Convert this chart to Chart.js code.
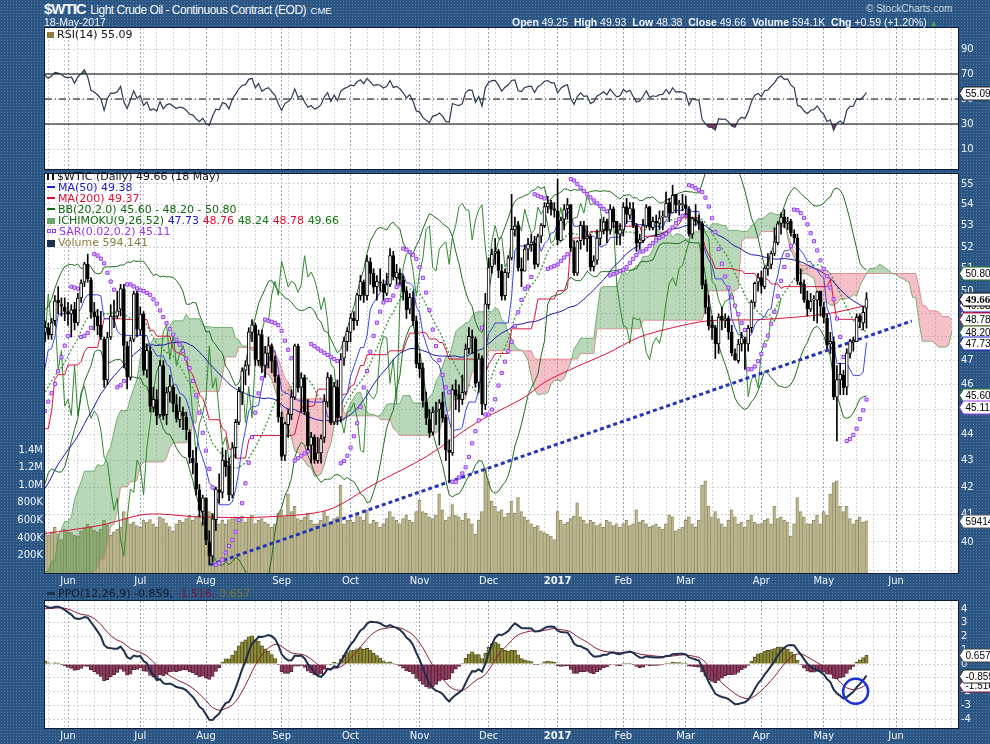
<!doctype html>
<html lang="en">
<head>
<meta charset="utf-8">
<title>$WTIC Light Crude Oil - Continuous Contract</title>
<style>
  * { margin: 0; padding: 0; }
  body { width: 990px; height: 744px; overflow: hidden; background: #2b5684; }
  #page {
    position: relative; width: 990px; height: 744px;
    background-color: #2b5684;
    background-image: radial-gradient(rgba(160,190,225,0.35) 0.7px, transparent 0.9px);
    background-size: 3px 3px;
    font-family: "Liberation Sans", Arial, sans-serif;
  }
  canvas { position: absolute; left: 0; z-index: 1; }
  .t { position: absolute; white-space: nowrap; color: #f2f5f9; z-index: 3; }
  .lg { position: absolute; white-space: nowrap; font: 11px "DejaVu Sans", sans-serif; line-height: 11px; z-index: 5; }
  .lg div { height: 11px; }
  .ic { display: inline-block; width: 8px; height: 2px; vertical-align: middle; margin: 0 3px 2px 0; }
  .sq { display: inline-block; width: 2px; height: 2px; border: 1px solid #9b3cf0; margin: 0 1px 2px 0; vertical-align: middle; }
</style>
</head>
<body>
<div id="page">
  <div class="t" style="left:44px;top:0px;line-height:18px"><span style="font-weight:bold;font-size:15px;letter-spacing:-1px">$WTIC</span> <span style="font-size:12px;letter-spacing:-0.5px">Light Crude Oil - Continuous Contract (EOD)</span> <span style="font-size:9.5px">CME</span></div>
  <div class="t" style="left:44px;top:16px;font-size:10.5px">18-May-2017</div>
  <div class="t" style="left:866px;top:3px;font-size:10px;color:#c9d3de">&copy; StockCharts.com</div>
  <div class="t" style="left:512px;top:16px;font-size:10.5px"><b>Open</b> 49.25 &nbsp;<b>High</b> 49.93 &nbsp;<b>Low</b> 48.38 &nbsp;<b>Close</b> 49.66 &nbsp;<b>Volume</b> 594.1K &nbsp;<b>Chg</b> +0.59 (+1.20%) <span style="color:#4caf50;font-size:8px">&#9650;</span></div>

  <canvas id="rsi" width="990" height="143" style="top:27px"></canvas>
  <canvas id="main" width="990" height="418" style="top:169px"></canvas>
  <canvas id="ppo" width="990" height="158" style="top:586px"></canvas>

  <div class="lg" style="left:47px;top:29px;color:#111"><span class="ic" style="width:7px;height:6px;background:#8a7d3a;margin-bottom:0"></span>RSI(14) 55.09</div>

  <div class="lg" style="left:47px;top:171px">
    <div style="color:#111"><span class="ic" style="width:3px;height:6px;border-left:2px solid #111;border-right:2px solid #111;margin-bottom:0"></span>$WTIC (Daily) 49.66 (18 May)</div>
    <div style="color:#1a1acc"><span class="ic" style="background:#1a1acc"></span>MA(50) 49.38</div>
    <div style="color:#dd1133"><span class="ic" style="background:#dd1133"></span>MA(200) 49.37</div>
    <div style="color:#116611"><span class="ic" style="background:#116611"></span>BB(20,2.0) 45.60 - 48.20 - 50.80</div>
    <div style="color:#116611"><span class="ic" style="background:#6aa86a;height:6px;margin-bottom:0"></span>ICHIMOKU(9,26,52) <span style="color:#1a1acc">47.73</span> <span style="color:#dd1133">48.76</span> <span style="color:#117711">48.24</span> <span style="color:#dd1133">48.78</span> <span style="color:#117711">49.66</span></div>
    <div style="color:#9933ee"><span class="sq"></span><span class="sq" style="margin-right:3px"></span>SAR(0.02,0.2) 45.11</div>
    <div style="color:#8a7d3a"><span class="ic" style="background:#1f3350;height:7px;margin-bottom:0"></span>Volume 594,141</div>
  </div>

  <div class="lg" style="left:47px;top:588px;color:#111a2e"><span class="ic" style="background:#1d2f4d;height:3px"></span>PPO(12,26,9) -0.859, <span style="color:#7a1535">-1.516,</span> <span style="color:#7d7826">0.657</span></div>
</div>

<script src="https://cdn.jsdelivr.net/npm/chart.js"></script>
<script>
// ---- axis layout (trading-day index, 0 = 1 Jun 2016) ----
const firstDay = -7;
const lastSlot = 270.85;
const monthTicks = [0, 22, 42, 65, 86, 107, 128, 149, 169, 188, 211, 230, 252];
const monthLabels = ['Jun', 'Jul', 'Aug', 'Sep', 'Oct', 'Nov', 'Dec', '2017', 'Feb', 'Mar', 'Apr', 'May', 'Jun'];
const weekTicks = [-6, -1, 3, 8, 13, 18, 23, 27, 32, 37, 42, 47, 52, 57, 62, 67, 71, 76, 81, 86, 91, 96, 101, 106,
  111, 116, 121, 125, 130, 135, 140, 145, 149, 153, 158, 162, 167, 172, 177, 182, 186, 191, 196, 201, 206,
  211, 216, 220, 225, 230, 235, 240, 245, 250, 254, 259, 264, 269];
const priceTicks = [39, 40, 41, 42, 43, 44, 45, 46, 47, 48, 49, 50, 51, 52, 53, 54, 55];
const volumeTicks = [200, 400, 600, 800, 1000, 1200, 1400];
const rsiTicks = [10, 30, 50, 70, 90];
const ppoTicks = [-4, -3, -2, -1, 0, 1, 2, 3, 4];

// closes before the visible window (Feb 1 - May 19 2016), only used to warm up indicators
const preCloses = [
  31.62, 29.88, 32.28, 31.72, 30.89, 29.69, 27.94, 27.45, 26.21, 29.44, 29.04, 30.66, 30.77, 29.64, 31.48, 31.87, 32.15, 33.07, 32.78, 33.75,
  34.40, 34.66, 34.57, 35.92, 37.90, 36.50, 38.29, 37.84, 38.50, 37.18, 36.34, 38.46, 40.20, 39.44, 39.91, 41.45, 39.79, 39.46, 39.39, 38.28, 38.32, 38.34,
  36.79, 35.70, 35.89, 37.75, 37.26, 39.72, 40.36, 42.17, 41.76, 41.50, 40.36, 39.78, 41.08, 42.63, 43.18, 43.73, 42.64, 44.04, 45.33, 46.03, 45.92,
  44.78, 43.65, 43.78, 44.32, 44.66, 43.44, 44.66, 46.23, 46.70, 46.21, 47.72, 48.31, 48.19, 48.16
];

// visible daily bars, 20 May 2016 .. 18 May 2017
const opens = [
  48.2, 48.4, 48.1, 48.7, 49.6, 49.4, 49.3,
  49.1, 49.0, 49.2, 48.6, 49.7, 50.4, 51.2, 50.5, 49.1, 48.9, 48.5, 47.9, 46.2, 48.0, 48.9, 48.9, 49.2, 50.1, 47.6, 46.3, 47.9, 49.9,
  48.3, 49.0, 46.6, 47.4, 45.1, 45.4, 44.8, 46.8, 44.8, 45.7, 45.9, 45.2, 44.6, 44.9, 44.7, 44.1, 43.1, 42.9, 41.9, 41.1,
  41.6, 40.0, 39.5, 40.8, 41.9, 41.8, 43.0, 42.8, 41.7, 43.5, 44.5, 45.7, 46.6, 46.8, 48.2, 48.5, 47.0, 48.1, 46.8, 47.3, 47.6, 47.0, 46.3,
  44.7, 43.2, 44.4, 44.8, 45.5, 47.6, 45.9, 46.3, 44.9, 43.6, 43.9, 43.0, 43.3, 43.9, 45.3, 46.3, 44.5, 45.9, 44.7, 47.1, 47.8,
  48.2, 48.8, 48.7, 49.8, 50.4, 49.8, 51.3, 50.8, 50.2, 50.4, 50.3, 49.9, 50.3, 51.6, 50.6, 50.8, 50.5, 50.0, 49.2, 49.7, 48.7,
  46.9, 46.7, 45.3, 44.6, 44.1, 44.9, 45.0, 45.3, 44.7, 43.4, 43.3, 45.8, 45.6, 45.4, 45.7, 47.5, 48.0, 47.9, 46.1, 47.1, 45.2,
  49.4, 51.1, 51.7, 51.8, 50.9, 49.8, 50.8, 51.5, 52.8, 53.0, 51.0, 50.9, 51.9, 52.1, 52.2, 51.2, 52.5, 53.0, 53.9, 54.1, 53.8,
  53.7, 52.3, 53.3, 53.8, 54.0, 52.0, 50.8, 52.3, 53.0, 52.4, 52.5, 51.1, 51.4, 52.4, 52.8, 53.2, 52.8, 53.8, 53.2, 52.6,
  52.8, 53.9, 53.5, 53.8, 53.0, 52.2, 52.3, 53.0, 53.9, 52.9, 53.2, 53.1, 53.4, 53.4, 54.1, 53.6, 54.5, 54.0, 54.0,
  54.0, 53.8, 52.6, 53.3, 53.2, 53.1, 50.3, 49.3, 48.5, 48.4, 47.7, 48.9, 48.7, 48.8, 48.2, 47.3, 47.0, 47.7, 47.9, 47.7, 48.4, 49.5, 50.4,
  50.6, 50.2, 51.0, 51.2, 51.7, 52.2, 53.1, 53.4, 53.1, 53.2, 52.6, 52.4, 50.4, 50.3, 49.6, 49.2, 49.6, 49.6, 50.0,
  49.3, 48.8, 47.7, 47.8, 45.5, 46.2, 46.4, 45.9, 47.3, 47.8, 47.8, 48.9, 48.6, 49.25
];
const highs = [
  48.7, 48.6, 48.8, 49.8, 50.2, 49.7, 49.7,
  49.5, 49.4, 49.5, 49.9, 50.5, 51.3, 51.67, 50.6, 49.5, 49.2, 49.1, 48.0, 48.2, 49.4, 49.6, 50.0, 50.3, 50.3, 47.8, 48.0, 50.0, 50.0,
  49.3, 49.1, 47.7, 47.6, 45.9, 45.8, 47.0, 47.0, 45.9, 46.4, 46.0, 45.6, 45.5, 45.1, 44.9, 44.2, 43.4, 43.5, 42.1, 41.7,
  41.6, 40.4, 41.0, 42.0, 42.5, 43.5, 43.4, 43.1, 43.7, 44.6, 45.9, 46.7, 47.0, 48.4, 48.75, 48.6, 48.3, 48.3, 47.6, 48.0, 47.7, 47.2, 46.4,
  44.9, 44.5, 45.0, 45.8, 47.7, 47.7, 46.5, 46.4, 45.4, 44.1, 44.0, 43.9, 44.0, 45.6, 46.5, 46.4, 46.1, 46.2, 47.3, 48.0, 48.4,
  49.0, 49.1, 49.9, 50.7, 50.5, 51.6, 51.5, 51.0, 50.7, 51.0, 50.5, 50.8, 51.93, 51.8, 51.2, 51.0, 50.7, 50.2, 49.9, 50.0, 48.9,
  47.3, 46.9, 45.7, 45.0, 45.1, 45.3, 45.4, 45.7, 44.8, 43.8, 46.0, 46.2, 46.0, 46.4, 47.7, 48.4, 48.3, 48.0, 47.3, 47.2, 49.9,
  51.5, 51.9, 52.4, 51.9, 51.2, 51.0, 51.6, 54.5, 53.4, 53.2, 51.5, 52.1, 52.4, 52.6, 52.5, 52.6, 53.1, 54.1, 54.4, 54.2, 54.1,
  55.24, 53.4, 54.0, 54.3, 54.0, 52.3, 52.3, 53.2, 53.2, 53.0, 52.6, 51.6, 52.8, 53.3, 53.4, 53.3, 54.0, 53.9, 53.2, 53.1,
  54.1, 54.3, 54.1, 54.1, 53.1, 52.6, 53.3, 54.0, 53.9, 53.4, 53.5, 53.7, 53.7, 54.6, 54.3, 54.94, 54.5, 54.2, 54.5,
  54.4, 53.9, 53.4, 54.0, 53.5, 53.2, 50.5, 49.8, 48.9, 48.5, 49.0, 49.3, 49.0, 48.9, 48.5, 47.5, 47.9, 48.2, 48.0, 48.5, 49.6, 50.4, 50.8,
  50.9, 51.1, 51.7, 51.8, 52.9, 53.2, 53.6, 53.76, 53.4, 53.3, 52.8, 52.6, 51.0, 50.5, 50.0, 49.9, 49.8, 50.0, 50.0,
  49.5, 49.0, 48.2, 48.0, 46.8, 46.9, 46.6, 47.5, 47.9, 48.0, 49.0, 49.0, 49.3, 49.93
];
const lows = [
  47.8, 47.9, 47.9, 48.5, 49.0, 48.9, 48.7,
  48.5, 48.0, 48.3, 48.5, 49.5, 50.2, 50.4, 48.8, 48.3, 48.1, 47.9, 45.9, 46.0, 47.9, 48.4, 48.8, 48.9, 46.7, 45.83, 46.2, 47.8, 48.0,
  48.1, 46.4, 46.3, 44.9, 44.9, 44.4, 44.7, 44.6, 44.4, 45.3, 44.9, 44.5, 44.3, 44.2, 43.8, 42.9, 42.5, 41.7, 40.9, 40.6,
  39.9, 39.19, 39.3, 40.4, 41.4, 41.6, 42.4, 41.5, 41.6, 43.1, 44.4, 45.2, 46.0, 46.4, 47.8, 46.8, 46.8, 46.5, 46.3, 46.7, 46.5, 46.1, 44.5,
  43.0, 43.0, 43.9, 44.6, 45.4, 45.7, 44.9, 44.8, 43.4, 42.9, 42.9, 42.9, 42.9, 43.7, 45.1, 44.4, 44.4, 44.4, 44.5, 46.8, 47.4,
  47.8, 48.3, 48.5, 49.6, 49.5, 49.6, 50.3, 49.9, 49.6, 50.0, 49.6, 49.8, 50.2, 50.5, 50.3, 50.3, 49.6, 48.8, 49.0, 48.5, 46.7,
  46.3, 45.1, 44.4, 43.9, 44.0, 44.4, 43.6, 44.5, 43.0, 42.2, 43.2, 45.0, 44.9, 45.2, 45.6, 47.3, 47.3, 45.9, 45.7, 44.8, 45.0,
  49.2, 50.8, 51.2, 50.6, 49.6, 49.6, 50.6, 51.4, 52.5, 50.9, 50.2, 50.9, 51.4, 51.8, 51.0, 51.1, 52.2, 52.9, 53.6, 53.5, 53.4,
  52.1, 52.3, 52.8, 53.3, 51.8, 50.7, 50.7, 51.9, 52.1, 51.8, 50.9, 50.9, 51.2, 52.1, 52.6, 52.2, 52.6, 52.9, 52.1, 52.1,
  52.5, 53.1, 53.3, 52.9, 51.8, 51.9, 52.2, 52.9, 52.8, 52.8, 52.5, 52.8, 52.8, 53.4, 53.2, 53.6, 53.6, 53.5, 53.7,
  53.5, 52.5, 52.4, 53.0, 52.8, 50.1, 49.0, 48.3, 47.9, 47.09, 47.3, 48.3, 48.4, 47.9, 47.2, 47.01, 46.9, 47.4, 46.64, 47.4, 48.2, 49.3, 50.0,
  49.9, 50.1, 50.7, 51.0, 51.6, 52.1, 52.6, 52.9, 52.8, 52.5, 52.2, 50.3, 49.9, 49.5, 48.9, 49.1, 48.7, 48.6, 48.9,
  48.6, 47.5, 47.3, 45.4, 43.76, 45.6, 45.6, 45.6, 47.1, 47.4, 47.8, 48.4, 48.3, 48.38
];
const closes = [
  48.41, 48.08, 48.62, 49.56, 49.48, 49.33, 49.10,
  49.01, 49.17, 48.62, 49.69, 50.36, 51.23, 50.56, 49.07, 48.88, 48.49, 48.01, 46.21, 47.98, 48.90, 48.85, 49.13, 50.11, 47.64, 46.33, 47.85, 49.88, 48.33,
  48.99, 46.60, 47.43, 45.14, 45.41, 44.76, 46.80, 44.75, 45.68, 45.95, 45.24, 44.65, 44.94, 44.75, 44.19, 43.13, 42.92, 41.92, 41.14, 41.60,
  40.06, 39.51, 40.83, 41.93, 41.80, 43.02, 42.77, 41.71, 43.49, 44.49, 45.74, 46.58, 46.79, 48.22, 48.52, 47.05, 48.10, 46.77, 47.33, 47.64, 46.98, 46.35, 44.70,
  43.16, 44.44, 44.83, 45.50, 47.62, 45.88, 46.29, 44.90, 43.58, 43.91, 43.03, 43.30, 43.85, 45.34, 46.32, 44.48, 45.93, 44.67, 47.05, 47.83, 48.24,
  48.81, 48.69, 49.83, 50.44, 49.81, 51.35, 50.79, 50.18, 50.44, 50.35, 49.94, 50.29, 51.60, 50.63, 50.85, 50.52, 49.96, 49.18, 49.72, 48.70, 46.86,
  46.67, 45.34, 44.66, 44.07, 44.89, 44.98, 45.27, 44.66, 43.41, 43.32, 45.81, 45.57, 45.42, 45.69, 47.49, 48.03, 47.96, 46.06, 47.08, 45.23, 49.44,
  51.06, 51.68, 51.79, 50.93, 49.77, 50.84, 51.50, 52.83, 52.98, 51.04, 50.90, 51.90, 52.12, 52.23, 51.20, 52.49, 53.02, 53.90, 54.06, 53.77, 53.72,
  52.33, 53.26, 53.76, 53.99, 51.96, 50.82, 52.25, 53.01, 52.37, 52.48, 51.08, 51.37, 52.42, 52.75, 53.18, 52.75, 53.78, 53.17, 52.63, 52.81,
  53.88, 53.54, 53.83, 53.01, 52.17, 52.34, 53.00, 53.86, 52.93, 53.20, 53.11, 53.36, 53.40, 54.06, 53.59, 54.45, 53.99, 54.05, 54.01,
  53.83, 52.61, 53.33, 53.20, 53.14, 50.28, 49.28, 48.49, 48.40, 47.72, 48.86, 48.75, 48.78, 48.22, 47.34, 47.04, 47.70, 47.97, 47.73, 48.37, 49.51, 50.35, 50.60,
  50.24, 51.03, 51.15, 51.70, 52.24, 53.08, 53.40, 53.11, 53.18, 52.65, 52.41, 50.44, 50.27, 49.62, 49.23, 49.56, 49.62, 49.97, 49.33,
  48.84, 47.66, 47.82, 45.52, 46.22, 46.43, 45.88, 47.33, 47.83, 47.84, 48.85, 48.66, 49.07, 49.66
];
// volume in thousands of contracts
const volumes = [
  480, 430, 470, 520, 450, 380, 500,
  470, 460, 430, 420, 480, 510, 560, 520, 490, 470, 500, 600, 550, 430, 470, 500, 520, 700, 620, 560, 580, 540,
  520, 600, 580, 610, 560, 520, 640, 620, 570, 530, 480, 560, 600, 580, 620, 660, 600, 650, 660, 580,
  620, 700, 680, 640, 560, 600, 560, 610, 620, 640, 600, 650, 580, 620, 660, 560, 600, 620, 580, 560, 520, 560, 680,
  720, 640, 900, 700, 760, 620, 600, 640, 680, 600, 560, 560, 600, 700, 650, 560, 620, 640, 1000, 560, 600,
  600, 580, 660, 640, 600, 720, 560, 600, 580, 520, 560, 620, 700, 640, 600, 560, 620, 660, 600, 580, 700,
  830, 700, 680, 640, 620, 660, 900, 720, 600, 640, 780, 660, 640, 600, 680, 620, 560, 440, 600, 700, 1200,
  1050, 820, 760, 700, 720, 640, 680, 820, 680, 860, 700, 640, 600, 560, 520, 540, 480, 460, 440, 420, 380,
  700, 600, 560, 580, 620, 650, 800, 640, 600, 560, 600, 580, 540, 560, 520, 600, 580, 540, 560, 520,
  560, 600, 540, 560, 720, 580, 600, 560, 520, 540, 560, 520, 500, 560, 660, 640, 480, 500, 520,
  600, 640, 560, 520, 600, 1000, 1050, 760, 640, 700, 620, 560, 520, 600, 720, 640, 560, 580, 520, 600, 660, 580, 560,
  560, 600, 620, 560, 760, 620, 640, 600, 580, 420, 560, 860, 700, 640, 560, 560, 600, 660, 560,
  700, 660, 900, 1030, 1050, 760, 700, 760, 620, 560, 600, 640, 580, 594.141
];
// 200-day MA (needs more history than the window holds)
const ma200Days = [-7, 10, 24, 40, 60, 79, 93, 109, 124, 139, 145, 154, 164, 174, 184, 195, 211, 231, 243];
const ma200Vals = [40.3, 40.6, 41.0, 40.9, 40.9, 41.15, 42.1, 43.15, 44.45, 45.5, 46.1, 46.7, 47.3, 48.0, 48.4, 48.7, 48.75, 49.0, 49.37];
// hand-drawn trend line and PPO marker
const trendDays = [43.2, 256.8];
const trendVals = [39.19, 48.69];
const markDay = [239.7];
const markVal = [-1.98];

// ---- indicators from the bar data ----
const P = preCloses.length;
const allC = preCloses.concat(closes);
const allH = preCloses.concat(highs);
const allL = preCloses.concat(lows);
const dayOf = n => n - P + firstDay;

function sma(a, n) {
  return a.map((v, i) => i < n - 1 ? null : a.slice(i - n + 1, i + 1).reduce((s, x) => s + x, 0) / n);
}
function stdev(a, n) {
  return a.map((v, i) => {
    if (i < n - 1) return null;
    const s = a.slice(i - n + 1, i + 1);
    const m = s.reduce((x, y) => x + y, 0) / n;
    return Math.sqrt(s.reduce((x, y) => x + (y - m) * (y - m), 0) / n);
  });
}
function ema(a, n) {
  const k = 2 / (n + 1);
  let e = null;
  return a.map(v => { e = e == null ? v : e + k * (v - e); return e; });
}
function midRange(n) {
  return allC.map((v, i) => i < n - 1 ? null :
    (Math.max(...allH.slice(i - n + 1, i + 1)) + Math.min(...allL.slice(i - n + 1, i + 1))) / 2);
}
function rsi(a, n) {
  const out = a.map(() => null);
  let ag = 0, al = 0;
  for (let i = 1; i < a.length; i++) {
    const d = a[i] - a[i - 1];
    const g = Math.max(d, 0), l = Math.max(-d, 0);
    if (i <= n) {
      ag += g / n; al += l / n;
      if (i === n) out[i] = 100 - 100 / (1 + ag / al);
    } else {
      ag = (ag * (n - 1) + g) / n; al = (al * (n - 1) + l) / n;
      out[i] = al === 0 ? 100 : 100 - 100 / (1 + ag / al);
    }
  }
  return out;
}
function psar(h, l, step, maxAf) {
  const out = h.map(() => null);
  let up = true, af = step, ep = h[0], s = l[0];
  for (let i = 1; i < h.length; i++) {
    s = s + af * (ep - s);
    if (up) {
      s = Math.min(s, l[i - 1], l[Math.max(i - 2, 0)]);
      if (l[i] < s) { up = false; s = ep; ep = l[i]; af = step; }
      else if (h[i] > ep) { ep = h[i]; af = Math.min(af + step, maxAf); }
    } else {
      s = Math.max(s, h[i - 1], h[Math.max(i - 2, 0)]);
      if (h[i] > s) { up = true; s = ep; ep = h[i]; af = step; }
      else if (l[i] < ep) { ep = l[i]; af = Math.min(af + step, maxAf); }
    }
    out[i] = s;
  }
  return out;
}
function pts(arr, shift) {
  const out = [];
  arr.forEach((v, n) => {
    const x = dayOf(n) + (shift || 0);
    if (v != null && x >= firstDay - 1) out.push({ x, y: v });
  });
  return out;
}

const ma50 = sma(allC, 50);
const bbMid = sma(allC, 20);
const bbSd = stdev(allC, 20);
const bbUp = bbMid.map((m, i) => m == null ? null : m + 2 * bbSd[i]);
const bbLo = bbMid.map((m, i) => m == null ? null : m - 2 * bbSd[i]);
const tenkan = midRange(9);
const kijun = midRange(26);
const spanB = midRange(52);
const spanA = tenkan.map((t, i) => t == null || kijun[i] == null ? null : (t + kijun[i]) / 2);
const sarAll = psar(allH, allL, 0.02, 0.2);
const rsiAll = rsi(allC, 14);
const e12 = ema(allC, 12), e26 = ema(allC, 26);
const ppoAll = allC.map((v, i) => (e12[i] - e26[i]) / e26[i] * 100);
const sigAll = ema(ppoAll, 9);
const histAll = ppoAll.map((v, i) => v - sigAll[i]);

// ---- shared chart pieces ----
Chart.defaults.font.family = '"DejaVu Sans", sans-serif';
const axisText = '#eef3f8';

const bgPlugin = {
  id: 'bg',
  beforeDraw(chart) {
    const { ctx, chartArea: a } = chart;
    ctx.save(); ctx.fillStyle = '#ffffff';
    ctx.fillRect(a.left, a.top, a.width, a.height); ctx.restore();
  }
};
const framePlugin = {
  id: 'frame',
  afterDraw(chart) {
    const { ctx, chartArea: a } = chart;
    ctx.save(); ctx.strokeStyle = '#0d1b36'; ctx.lineWidth = 1;
    ctx.strokeRect(Math.round(a.left) - 0.5, Math.round(a.top) - 0.5, Math.round(a.width) + 1, Math.round(a.height) + 1);
    ctx.restore();
  }
};
const tagPlugin = {
  id: 'tags',
  afterDraw(chart, args, opts) {
    const { ctx, chartArea } = chart;
    (opts.items || []).forEach(t => {
      const y = Math.round(chart.scales[t.axis].getPixelForValue(t.value)) + 0.5;
      const x = chartArea.right + 1.5;
      ctx.save();
      ctx.font = (t.bold ? 'bold 11px "Liberation Serif"' : '10px "Liberation Sans"');
      const w = ctx.measureText(t.text).width + 4;
      ctx.beginPath();
      ctx.moveTo(x, y); ctx.lineTo(x + 4, y - 6.5); ctx.lineTo(x + 4 + w, y - 6.5);
      ctx.lineTo(x + 4 + w, y + 6.5); ctx.lineTo(x + 4, y + 6.5); ctx.closePath();
      ctx.fillStyle = '#ffffff'; ctx.fill();
      ctx.strokeStyle = t.color; ctx.lineWidth = 1; ctx.stroke();
      ctx.fillStyle = '#000'; ctx.textBaseline = 'middle';
      ctx.fillText(t.text, x + 6, y + 0.5);
      ctx.restore();
    });
  }
};

const allTicks = weekTicks.concat(monthTicks).filter((v, i, a) => a.indexOf(v) === i).sort((a, b) => a - b);
function xAxis(showLabels, h) {
  return {
    type: 'linear', min: firstDay, max: lastSlot, offset: false,
    afterBuildTicks: s => { s.ticks = allTicks.map(v => ({ value: v })); },
    afterFit: s => { s.height = h; s.paddingLeft = 0; s.paddingRight = 0; },
    grid: { offset: false, drawTicks: false, color: c => monthTicks.includes(c.tick && c.tick.value) ? '#95a3bf' : '#d3d3d3' },
    border: { display: false, dash: [2, 2] },
    ticks: {
      display: showLabels, autoSkip: false, maxRotation: 0, padding: 2, color: axisText,
      font: c => ({ size: 10, weight: c.tick && c.tick.label === '2017' ? 'bold' : 'normal' }),
      callback: v => { const j = monthTicks.indexOf(v); return j < 0 ? '' : monthLabels[j]; }
    }
  };
}
function yAxis(extra) {
  return Object.assign({
    position: 'right',
    afterFit: s => { s.width = 32; s.paddingTop = 0; s.paddingBottom = 0; },
    grid: { drawTicks: false, color: '#d3d3d3' },
    border: { display: false, dash: [2, 2] },
    ticks: { autoSkip: false, padding: 3, color: axisText, font: { size: 10 } }
  }, extra);
}
const line = (data, color, width, extra) => Object.assign({
  type: 'line', data, borderColor: color, borderWidth: width, pointRadius: 0, fill: false, tension: 0
}, extra || {});

// ---- RSI panel ----
new Chart(document.getElementById('rsi'), {
  type: 'line',
  data: {
    datasets: [
      line(pts(rsiAll), '#2b3a55', 1.2, { order: 0 }),
      line(pts(rsiAll), 'transparent', 0, { order: 2, fill: { target: { value: 30 }, above: 'transparent', below: '#8c3a5c' } }),
      line(pts(rsiAll), 'transparent', 0, { order: 2, fill: { target: { value: 70 }, above: '#5b9a5b', below: 'transparent' } }),
      line([{ x: firstDay, y: 70 }, { x: lastSlot, y: 70 }], '#000', 1, { order: 1 }),
      line([{ x: firstDay, y: 30 }, { x: lastSlot, y: 30 }], '#000', 1, { order: 1 }),
      line([{ x: firstDay, y: 50 }, { x: lastSlot, y: 50 }], '#000', 1, { order: 1, borderDash: [7, 3, 1, 3] })
    ]
  },
  options: {
    responsive: false, animation: false, events: [],
    layout: { padding: { top: 1, left: 45, right: 0, bottom: 0 } },
    plugins: {
      legend: { display: false }, tooltip: { enabled: false },
      tags: { items: [{ axis: 'y', value: 55.09, text: '55.09', color: '#222' }] }
    },
    scales: {
      x: xAxis(false, 1),
      y: yAxis({
        type: 'linear', min: -6, max: 106.8,
        afterBuildTicks: s => { s.ticks = rsiTicks.map(v => ({ value: v })); }
      })
    }
  },
  plugins: [bgPlugin, framePlugin, tagPlugin]
});

// ---- price panel ----
const k2x = k => firstDay + k;
const mainSets = [];
mainSets.push({
  type: 'bar', order: 0, grouped: false, barThickness: 3, minBarLength: 1,
  data: opens.map((o, k) => ({ x: k2x(k), y: [Math.min(o, closes[k]), Math.max(o, closes[k])] })),
  backgroundColor: c => closes[c.dataIndex] >= opens[c.dataIndex] ? '#ffffff' : '#000000',
  borderColor: '#000', borderWidth: 1, borderSkipped: false
});
mainSets.push({
  type: 'bar', order: 1, grouped: false, barThickness: 1,
  data: highs.map((h, k) => ({ x: k2x(k), y: [lows[k], h] })),
  backgroundColor: '#000', borderWidth: 0
});
mainSets.push(line(pts(sarAll), '#9b3cf0', 1, {
  order: 2, showLine: false, pointRadius: 2.2, pointStyle: 'rect',
  pointBorderColor: '#9b3cf0', pointBackgroundColor: '#d9c4ff', pointBorderWidth: 1
}));
mainSets.push(line(trendDays.map((d, i) => ({ x: d, y: trendVals[i] })), '#2436b8', 3, { order: 3, borderDash: [4, 3] }));
mainSets.push(line(pts(tenkan), '#3a46e0', 1, { order: 4 }));
mainSets.push(line(pts(kijun), '#d8123a', 1, { order: 4 }));
mainSets.push(line(pts(ma50), '#1a1aa8', 1, { order: 4 }));
mainSets.push(line(ma200Days.map((d, i) => ({ x: d, y: ma200Vals[i] })), '#d8123a', 1, { order: 4, tension: 0.3 }));
mainSets.push(line(pts(bbUp), '#1f6e1f', 1, { order: 5 }));
mainSets.push(line(pts(bbLo), '#1f6e1f', 1, { order: 5 }));
mainSets.push(line(pts(bbMid), '#3c963c', 1.3, { order: 5, borderDash: [2, 2] }));
mainSets.push(line(pts(allC, -26), '#2f8a2f', 1, { order: 5 }));
const spanBIndex = mainSets.length + 1;
mainSets.push(line(pts(spanA, 26), 'rgba(70,150,70,0.7)', 1, {
  order: 7, fill: { target: spanBIndex, above: 'rgba(70,150,70,0.38)', below: 'rgba(232,90,110,0.38)' }
}));
mainSets.push(line(pts(spanB, 26), 'rgba(230,110,125,0.7)', 1, { order: 7 }));
mainSets.push({
  type: 'bar', order: 9, grouped: false, yAxisID: 'yv',
  data: volumes.map((v, k) => ({ x: k2x(k), y: v })),
  backgroundColor: '#bab58a', borderColor: '#8f8b6c', borderWidth: { left: 1, right: 0, top: 1, bottom: 0 },
  barPercentage: 1, categoryPercentage: 1
});

new Chart(document.getElementById('main'), {
  type: 'bar',
  data: { datasets: mainSets },
  options: {
    responsive: false, animation: false, events: [],
    layout: { padding: { top: 1, left: 0, right: 0, bottom: 0 } },
    plugins: {
      legend: { display: false }, tooltip: { enabled: false },
      tags: {
        items: [
          { axis: 'y', value: 49.37, text: '49.37', color: '#d8123a' },
          { axis: 'y', value: 49.38, text: '49.38', color: '#1a1acc' },
          { axis: 'y', value: 48.78, text: '48.78', color: '#d8123a' },
          { axis: 'y', value: 48.20, text: '48.20', color: '#1f6e1f' },
          { axis: 'y', value: 47.73, text: '47.73', color: '#1a1acc' },
          { axis: 'y', value: 45.60, text: '45.60', color: '#1f6e1f' },
          { axis: 'y', value: 45.11, text: '45.11', color: '#9b3cf0' },
          { axis: 'y', value: 50.80, text: '50.80', color: '#1f6e1f' },
          { axis: 'y', value: 49.66, text: '49.66', color: '#000', bold: true },
          { axis: 'yv', value: 594.141, text: '594141', color: '#555' }
        ]
      }
    },
    scales: {
      x: xAxis(true, 14),
      y: yAxis({
        type: 'logarithmic', min: 38.91, max: 55.49,
        afterBuildTicks: s => { s.ticks = priceTicks.map(v => ({ value: v })); },
        ticks: { autoSkip: false, padding: 3, color: axisText, font: { size: 10 }, callback: v => v === 39 ? '' : String(v) }
      }),
      yv: {
        type: 'linear', position: 'left', min: 0, max: 4550,
        afterBuildTicks: s => { s.ticks = volumeTicks.map(v => ({ value: v })); },
        afterFit: s => { s.width = 45; s.paddingTop = 0; s.paddingBottom = 0; },
        grid: { display: false, drawTicks: false },
        border: { display: false },
        ticks: { padding: 2, color: axisText, font: { size: 10 },
          callback: v => v >= 1000 ? (v / 1000).toFixed(1) + 'M' : v + 'K' }
      }
    }
  },
  plugins: [bgPlugin, framePlugin, tagPlugin]
});

// ---- PPO panel ----
const histPts = pts(histAll);
new Chart(document.getElementById('ppo'), {
  type: 'bar',
  data: {
    datasets: [
      line(markDay.map((d, i) => ({ x: d, y: markVal[i] })), 'transparent', 0, {
        order: 0, showLine: false, pointRadius: 12.5, pointBorderColor: '#1b30d6',
        pointBackgroundColor: 'transparent', pointBorderWidth: 2.5
      }),
      line(pts(ppoAll), '#1d2f4d', 2, { order: 1 }),
      line(pts(sigAll), '#8b1c3c', 1, { order: 2 }),
      {
        type: 'bar', order: 3, grouped: false, data: histPts,
        backgroundColor: c => histPts[c.dataIndex].y >= 0 ? '#8f8a38' : '#8e3c60',
        borderColor: c => histPts[c.dataIndex].y >= 0 ? '#4d4a1c' : '#4d1e33',
        borderWidth: 0.8, barPercentage: 1, categoryPercentage: 1
      }
    ]
  },
  options: {
    responsive: false, animation: false, events: [],
    layout: { padding: { top: 1, left: 45, right: 0, bottom: 0 } },
    plugins: {
      legend: { display: false }, tooltip: { enabled: false },
      tags: {
        items: [
          { axis: 'y', value: 0.657, text: '0.657', color: '#444' },
          { axis: 'y', value: -1.516, text: '-1.516', color: '#8b1c3c' },
          { axis: 'y', value: -0.859, text: '-0.859', color: '#222' }
        ]
      }
    },
    scales: {
      x: xAxis(true, 16),
      y: yAxis({
        type: 'linear', min: -4.64, max: 4.58,
        afterBuildTicks: s => { s.ticks = ppoTicks.map(v => ({ value: v })); }
      })
    }
  },
  plugins: [bgPlugin, framePlugin, tagPlugin]
});
</script>
</body>
</html>
